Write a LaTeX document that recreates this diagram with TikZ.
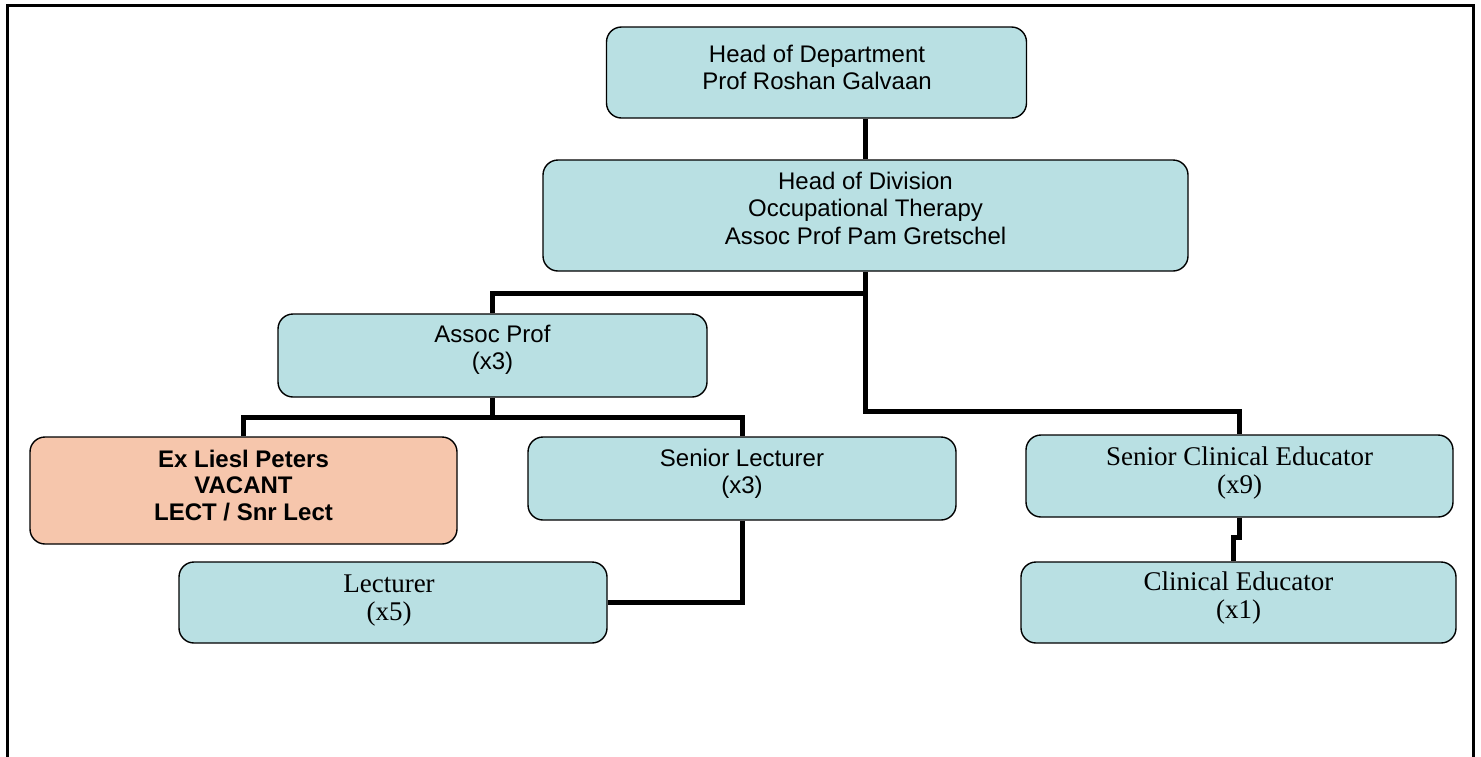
\documentclass[tikz,border=0pt]{standalone}
\usepackage{fontspec}
\setmainfont{Liberation Sans}
\newfontfamily\timesft{Liberation Serif}
\definecolor{boxblue}{RGB}{185,224,227}
\definecolor{boxsalmon}{RGB}{246,198,172}
\begin{document}
\begin{tikzpicture}[x=1pt,y=-1pt,
  box/.style={draw=black,line width=1.4pt,rounded corners=15pt,fill=boxblue,inner sep=0pt},
  salbox/.style={box,fill=boxsalmon},
  stxt/.style={anchor=north,align=center,inner sep=0pt,font=\fontsize{24}{27.5}\selectfont},
  rtxt/.style={anchor=north,align=center,inner sep=0pt,font=\timesft\fontsize{27}{28}\selectfont},
  conn/.style={draw=black,line width=5pt}]
\useasboundingbox (0,0) rectangle (1481,756);
% outer frame
\draw[line width=3pt] (7,800) -- (7,5) -- (1473,5) -- (1473,800);
% boxes
\node[box,minimum width=420pt,minimum height=91pt] (hod) at (816.5,72.5) {};
\node[box,minimum width=645pt,minimum height=111pt] (hodiv) at (865.5,215.5) {};
\node[box,minimum width=429pt,minimum height=83pt] (assoc) at (492.5,355.5) {};
\node[salbox,minimum width=427pt,minimum height=107pt] (exl) at (243.5,490.5) {};
\node[box,minimum width=428pt,minimum height=83pt] (sl) at (742,478.5) {};
\node[box,minimum width=428pt,minimum height=81pt] (lect) at (393,602.5) {};
\node[box,minimum width=427pt,minimum height=82pt] (sce) at (1239.5,476) {};
\node[box,minimum width=435pt,minimum height=81pt] (ce) at (1238.5,602.5) {};
% texts
\node[stxt] (hodT) at (817,42) {\rule{0pt}{20pt}Head of Department\\Prof Roshan Galvaan};
\node[stxt] (hodivT) at (865.5,169) {\rule{0pt}{20pt}Head of Division\\Occupational Therapy\\Assoc Prof Pam Gretschel};
\node[stxt] (assocT) at (492.5,322) {\rule{0pt}{20pt}Assoc Prof\\(x3)};
\node[stxt,font=\bfseries\fontsize{24}{26.5}\selectfont] (exlT) at (243.5,447) {\rule{0pt}{20pt}Ex Liesl Peters\\VACANT\\LECT / Snr Lect};
\node[stxt] (slT) at (742,446) {\rule{0pt}{20pt}Senior Lecturer\\(x3)};
\node[rtxt] (lectT) at (389,572) {\rule{0pt}{20pt}Lecturer\\(x5)};
\node[rtxt] (sceT) at (1239.5,445) {\rule{0pt}{20pt}Senior Clinical Educator\\(x9)};
\node[rtxt] (ceT) at (1238.5,570) {\rule{0pt}{20pt}Clinical Educator\\(x1)};
% junctions
\coordinate (j1) at (865.5,293);
\coordinate (j2) at (865.5,411);
\coordinate (j3) at (492.5,417);
\coordinate (k1) at (1239.5,537);
\coordinate (k2) at (1233.5,537);
% connectors
\draw[conn] (hodiv.north |- hod.south) -- (hodiv.north);
\draw[conn] (hodiv.south) -- (j2) -| (sce.north);
\draw[conn] (j1) -| (assoc.north);
\draw[conn] (assoc.south) -- (j3);
\draw[conn] (exl.north) |- (j3) -| (sl.north);
\draw[conn] (sl.south) |- (lect.east);
\draw[conn] (sce.south) -- (k1) -- (k2) -- (k2 |- ce.north);
\end{tikzpicture}
\end{document}
